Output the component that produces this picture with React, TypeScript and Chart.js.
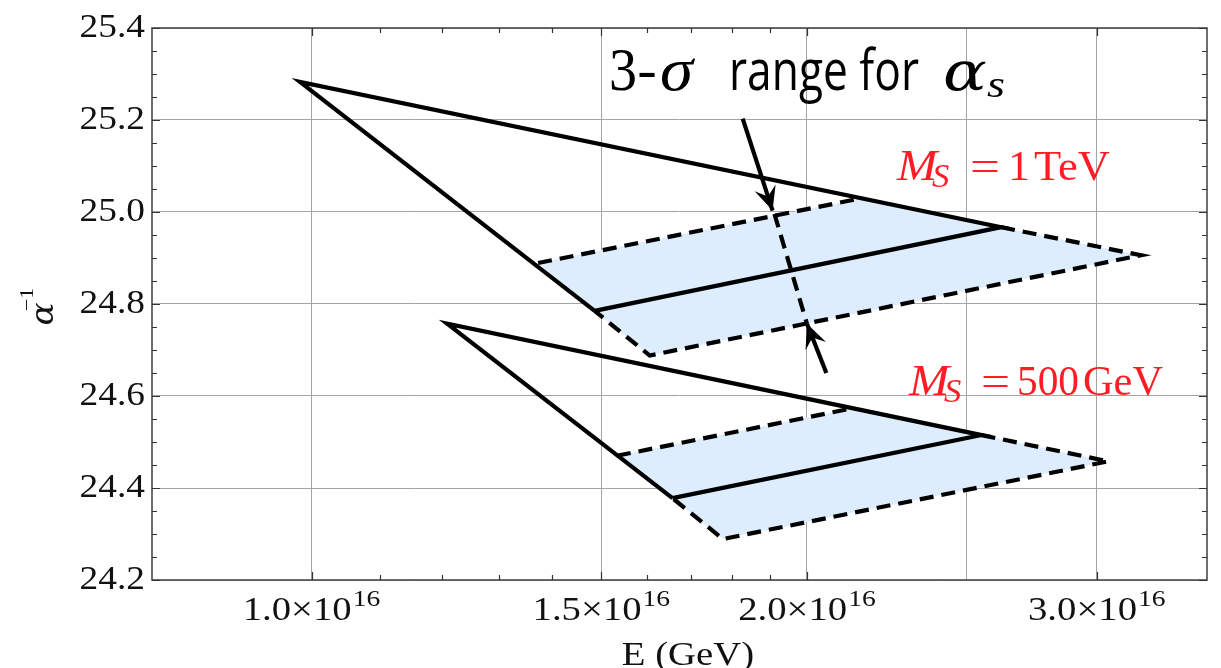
import React, { useEffect, useRef } from "react";
import { Chart, registerables } from "chart.js";

Chart.register(...registerables);

type Pt = [number, number]; // [E in GeV, inverse coupling α⁻¹]

// ---- M_S = 1 TeV ----
// solid triangle: lower corner -> apex -> right corner -> lower corner
const TEV_TRIANGLE: Pt[] = [
  [1.486e16, 24.785],
  [0.984e16, 25.283],
  [2.624e16, 24.967],
  [1.486e16, 24.785],
];
// dashed upper edge of the band
const TEV_BAND_TOP: Pt[] = [
  [1.373e16, 24.889],
  [2.159e16, 25.03],
];
// dashed right tip and lower edge of the band
const TEV_BAND_EDGE: Pt[] = [
  [2.624e16, 24.967],
  [3.191e16, 24.906],
  [1.605e16, 24.688],
  [1.486e16, 24.785],
];
// shaded band outline
const TEV_BAND_AREA: Pt[] = [
  [1.373e16, 24.889],
  [2.159e16, 25.03],
  [2.624e16, 24.967],
  [3.191e16, 24.906],
  [1.605e16, 24.688],
  [1.486e16, 24.785],
];

// ---- M_S = 500 GeV ----
const GEV_TRIANGLE: Pt[] = [
  [1.657e16, 24.378],
  [1.209e16, 24.757],
  [2.553e16, 24.515],
  [1.657e16, 24.378],
];
const GEV_BAND_TOP: Pt[] = [
  [1.533e16, 24.47],
  [2.129e16, 24.573],
];
const GEV_BAND_EDGE: Pt[] = [
  [2.553e16, 24.515],
  [3.049e16, 24.458],
  [1.778e16, 24.289],
  [1.657e16, 24.378],
];
const GEV_BAND_AREA: Pt[] = [
  [1.533e16, 24.47],
  [2.129e16, 24.573],
  [2.553e16, 24.515],
  [3.049e16, 24.458],
  [1.778e16, 24.289],
  [1.657e16, 24.378],
];

// ---- 3-sigma marker ----
const SIGMA_LINE: Pt[] = [
  [1.911e16, 24.996],
  [2.0e16, 24.757],
];
const ARROW_DOWN: Pt[] = [
  [1.828e16, 25.203],
  [1.906e16, 25.003],
];
const ARROW_UP: Pt[] = [
  [2.055e16, 24.65],
  [2.0e16, 24.757],
];

// ---- axes ----
const E_MIN = 0.8e16;
const E_MAX = 3.5e16;
const E_GRID = [1.0e16, 1.5e16, 2.0e16, 2.5e16, 3.0e16];
const E_LABELS: [number, string][] = [
  [1.0e16, "1.0"],
  [1.5e16, "1.5"],
  [2.0e16, "2.0"],
  [3.0e16, "3.0"],
];
const E_EXPONENT = "16";
const E_MAJOR_TICKS = [1.0e16, 1.5e16, 2.0e16, 3.0e16];
const E_MINOR_TICKS = [1.1e16, 1.2e16, 1.3e16, 1.4e16, 1.6e16, 1.7e16, 1.8e16, 1.9e16];

const A_MIN = 24.2;
const A_MAX = 25.4;
const A_TICKS = [24.2, 24.4, 24.6, 24.8, 25.0, 25.2, 25.4];
const A_MINOR_STEP = 0.05;

const FILL = "rgb(221,237,253)";
const RED = "#ff1c24";
const INK = "#111";
const SERIF = "'Liberation Serif', 'Times New Roman', serif";
const GREEK = "'DejaVu Serif', serif";
const SANS = "'Open Sans', sans-serif";

const toXY = (pts: Pt[]) => pts.map(([x, y]) => ({ x, y }));

const solid = (pts: Pt[], extra: any = {}) => ({
  data: toXY(pts),
  showLine: true,
  pointRadius: 0,
  borderColor: "#000",
  borderWidth: 4.2,
  borderJoinStyle: "miter",
  borderCapStyle: "butt",
  fill: false,
  ...extra,
});

const dashed = (pts: Pt[]) => solid(pts, { borderDash: [14, 8] });

const area = (pts: Pt[]) => ({
  data: toXY(pts),
  showLine: false,
  pointRadius: 0,
  polyFill: FILL,
});

function put(
  ctx: CanvasRenderingContext2D,
  s: string,
  x: number,
  y: number,
  font: string,
  color: string,
  sx = 1,
  align: "left" | "center" | "right" = "left"
) {
  ctx.save();
  ctx.font = font;
  const w = ctx.measureText(s).width * sx;
  const x0 = align === "center" ? x - w / 2 : align === "right" ? x - w : x;
  ctx.translate(x0, y);
  ctx.scale(sx, 1);
  ctx.fillStyle = color;
  ctx.textAlign = "left";
  ctx.textBaseline = "alphabetic";
  ctx.fillText(s, 0, 0);
  ctx.restore();
  return w;
}

function putFit(
  ctx: CanvasRenderingContext2D,
  s: string,
  x0: number,
  x1: number,
  y: number,
  font: string,
  color: string
) {
  ctx.save();
  ctx.font = font;
  const w = ctx.measureText(s).width;
  ctx.restore();
  return put(ctx, s, x0, y, font, color, (x1 - x0) / w);
}

const decor = {
  id: "decor",
  beforeDatasetsDraw(chart: any) {
    const ctx = chart.ctx as CanvasRenderingContext2D;
    chart.data.datasets.forEach((ds: any, i: number) => {
      if (!ds.polyFill) return;
      const pts = chart.getDatasetMeta(i).data;
      ctx.save();
      ctx.beginPath();
      pts.forEach((p: any, k: number) => (k ? ctx.lineTo(p.x, p.y) : ctx.moveTo(p.x, p.y)));
      ctx.closePath();
      ctx.fillStyle = ds.polyFill;
      ctx.fill();
      ctx.restore();
    });
  },
  afterDatasetsDraw(chart: any) {
    const ctx = chart.ctx as CanvasRenderingContext2D;
    chart.data.datasets.forEach((ds: any, i: number) => {
      if (!ds.arrowHead) return;
      const pts = chart.getDatasetMeta(i).data;
      const tip = pts[pts.length - 1];
      const from = pts[pts.length - 2];
      const dx = tip.x - from.x;
      const dy = tip.y - from.y;
      const len = Math.hypot(dx, dy);
      const ux = dx / len;
      const uy = dy / len;
      const nx = -uy;
      const ny = ux;
      const L = 24;
      const W = 11;
      ctx.save();
      ctx.beginPath();
      ctx.moveTo(tip.x, tip.y);
      ctx.lineTo(tip.x - ux * L + nx * W, tip.y - uy * L + ny * W);
      ctx.lineTo(tip.x - ux * L * 0.62, tip.y - uy * L * 0.62);
      ctx.lineTo(tip.x - ux * L - nx * W, tip.y - uy * L - ny * W);
      ctx.closePath();
      ctx.fillStyle = "#000";
      ctx.fill();
      ctx.restore();
    });
  },
  afterDraw(chart: any) {
    const ctx = chart.ctx as CanvasRenderingContext2D;
    const { left, right, top, bottom } = chart.chartArea;
    const xs = chart.scales.x;
    const ys = chart.scales.y;

    // frame
    ctx.save();
    ctx.strokeStyle = "#4a4a4a";
    ctx.lineWidth = 1.6;
    ctx.strokeRect(left, top, right - left, bottom - top);

    // inward ticks
    ctx.lineWidth = 1.2;
    ctx.strokeStyle = "#333";
    ctx.beginPath();
    const nA = Math.round((A_MAX - A_MIN) / A_MINOR_STEP);
    for (let k = 0; k <= nA; k++) {
      const py = Math.round(ys.getPixelForValue(A_MIN + k * A_MINOR_STEP)) + 0.5;
      const len = k % 4 === 0 ? 8 : 5;
      ctx.moveTo(left, py);
      ctx.lineTo(left + len, py);
      ctx.moveTo(right, py);
      ctx.lineTo(right - len, py);
    }
    const xTick = (v: number, len: number) => {
      const px = Math.round(xs.getPixelForValue(v)) + 0.5;
      ctx.moveTo(px, bottom);
      ctx.lineTo(px, bottom - len);
      ctx.moveTo(px, top);
      ctx.lineTo(px, top + len);
    };
    E_MAJOR_TICKS.forEach((v) => xTick(v, 8));
    E_MINOR_TICKS.forEach((v) => xTick(v, 5));
    ctx.stroke();
    ctx.restore();

    // y tick labels
    A_TICKS.forEach((v) => {
      const py = ys.getPixelForValue(v);
      put(ctx, v.toFixed(1), 145, py + 9, `34px ${SERIF}`, INK, 1.1, "right");
    });

    // x tick labels  m × 10^16
    E_LABELS.forEach(([v, m]) => {
      const px = xs.getPixelForValue(v);
      ctx.save();
      ctx.font = `34px ${SERIF}`;
      const w1 = ctx.measureText(m + "×10").width * 1.14;
      ctx.font = `23px ${SERIF}`;
      const w2 = ctx.measureText(E_EXPONENT).width * 1.2;
      ctx.restore();
      const x0 = px - (w1 + w2 + 1) / 2;
      put(ctx, m + "×10", x0, 620, `34px ${SERIF}`, INK, 1.14);
      put(ctx, E_EXPONENT, x0 + w1 + 1, 606, `23px ${SERIF}`, INK, 1.2);
    });

    // axis titles
    put(ctx, "E (GeV)", 688, 665, `34px ${SERIF}`, INK, 1.14, "center");
    ctx.save();
    ctx.translate(53, 314);
    ctx.rotate(-Math.PI / 2);
    put(ctx, "α", 0, 0, `italic 31px ${GREEK}`, INK, 1.1, "center");
    put(ctx, "−1", 3, -20, `19px ${SERIF}`, INK, 1.15);
    ctx.restore();

    // 3-sigma annotation
    putFit(ctx, "3", 609, 637, 90, `62px ${SERIF}`, "#000");
    putFit(ctx, "-", 637, 657, 90, `56px ${SANS}`, "#000");
    putFit(ctx, "σ", 660, 693, 90, `italic 62px ${SERIF}`, "#000");
    putFit(ctx, "range for", 729, 919, 90, `56px ${SANS}`, "#000");
    put(ctx, "α", 965, 90, `italic 54px ${GREEK}`, "#000", 1.2, "center");
    putFit(ctx, "s", 987, 1005, 97, `italic 38px ${SERIF}`, "#000");

    // scale labels
    put(ctx, "M", 897, 180, `italic 44px ${SERIF}`, RED, 1.1);
    put(ctx, "S", 932, 187, `italic 33px ${SERIF}`, RED, 1.05);
    putFit(ctx, "=", 970, 1000, 180, `42px ${SERIF}`, RED);
    put(ctx, "1", 1008, 180, `42px ${SERIF}`, RED, 1.05);
    putFit(ctx, "TeV", 1034, 1110, 180, `42px ${SERIF}`, RED);

    put(ctx, "M", 909, 395, `italic 44px ${SERIF}`, RED, 1.1);
    put(ctx, "S", 944, 402, `italic 33px ${SERIF}`, RED, 1.05);
    putFit(ctx, "=", 981, 1010, 395, `42px ${SERIF}`, RED);
    putFit(ctx, "500", 1017, 1079, 395, `42px ${SERIF}`, RED);
    putFit(ctx, "GeV", 1083, 1163, 395, `42px ${SERIF}`, RED);
  },
};

export default function App() {
  const canvasRef = useRef<HTMLCanvasElement | null>(null);

  useEffect(() => {
    const canvas = canvasRef.current;
    if (!canvas) return;
    const chart = new Chart(canvas, {
      type: "scatter",
      data: {
        datasets: [
          solid(ARROW_DOWN, { arrowHead: true }),
          solid(ARROW_UP, { arrowHead: true }),
          dashed(SIGMA_LINE),
          solid(TEV_TRIANGLE),
          solid(GEV_TRIANGLE),
          dashed(TEV_BAND_TOP),
          dashed(TEV_BAND_EDGE),
          dashed(GEV_BAND_TOP),
          dashed(GEV_BAND_EDGE),
          area(TEV_BAND_AREA),
          area(GEV_BAND_AREA),
        ] as any,
      },
      options: {
        responsive: false,
        animation: false,
        events: [],
        layout: { padding: { left: 0, right: 14, top: 28, bottom: 0 } },
        plugins: { legend: { display: false }, tooltip: { enabled: false } },
        scales: {
          x: {
            type: "logarithmic",
            min: E_MIN,
            max: E_MAX,
            afterBuildTicks: (s: any) => {
              s.ticks = E_GRID.map((value) => ({ value }));
            },
            afterFit: (s: any) => {
              s.height = 88;
            },
            ticks: { display: false },
            grid: { color: "#a4a4a4", lineWidth: 1, drawTicks: false },
            border: { display: false },
          },
          y: {
            min: A_MIN,
            max: A_MAX,
            afterBuildTicks: (s: any) => {
              s.ticks = A_TICKS.map((value) => ({ value }));
            },
            afterFit: (s: any) => {
              s.width = 152;
            },
            ticks: { display: false },
            grid: { color: "#a4a4a4", lineWidth: 1, drawTicks: false },
            border: { display: false },
          },
        },
      } as any,
      plugins: [decor],
    });
    return () => chart.destroy();
  }, []);

  return (
    <div style={{ position: "absolute", left: 0, top: 0, width: 1221, height: 668, background: "#fff" }}>
      <canvas ref={canvasRef} width={1221} height={668} style={{ display: "block" }} />
    </div>
  );
}
